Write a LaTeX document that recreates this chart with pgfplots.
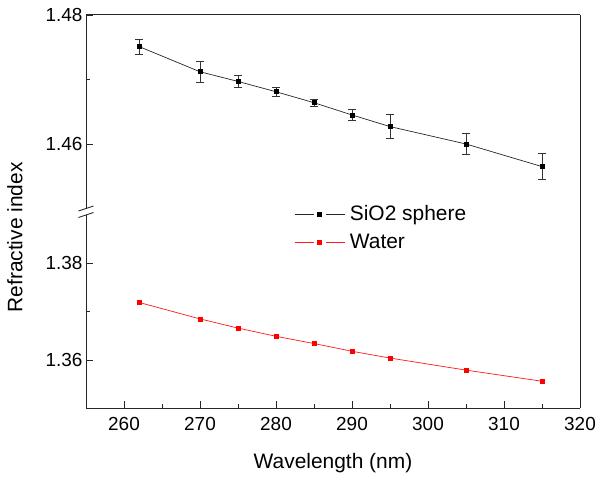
\documentclass[border=0pt]{standalone}
\usepackage{pgfplots}
\pgfplotsset{compat=1.18}
\usepackage{fontspec}
\setmainfont{Liberation Sans}
\begin{document}
\begin{tikzpicture}
\pgfplotsset{
  brk/.style={
    scale only axis, width=494bp,
    xmin=255, xmax=320,
    axis line style={line width=1bp, -, black!85},
    tick align=inside,
    every tick/.style={black!85, line width=0.8bp},
    major tick length=7bp, minor tick length=4bp,
    tick label style={font=\fontsize{19}{22}\selectfont},
    /pgf/number format/assume math mode=true,
    yticklabel style={/pgf/number format/.cd, fixed, fixed zerofill, precision=2},
    scaled y ticks=false,
  }
}
\begin{axis}[brk, name=up, height=193.5bp, at={(0,0)}, anchor=south west,
  ymin=1.45, ymax=1.48,
  axis x line*=top, axis y line*=left,
  xtick=\empty, ytick={1.46,1.48}, minor ytick={1.47}]
\addplot[black!85, line width=0.7bp, mark=square*, mark size=2bp, mark options={solid, black},
  error bars/.cd, y dir=both, y explicit,
  error bar style={line width=0.7bp, black!80},
  error mark options={rotate=90, mark size=4bp, black!80, line width=0.7bp}]
coordinates {
(262,1.4751) +- (0,0.0012)
(270,1.4712) +- (0,0.0016)
(275,1.4697) +- (0,0.0009)
(280,1.4681) +- (0,0.0007)
(285,1.4664) +- (0,0.0005)
(290,1.4645) +- (0,0.0009)
(295,1.4627) +- (0,0.0019)
(305,1.4600) +- (0,0.0016)
(315,1.4565) +- (0,0.0020)
};
\end{axis}
\begin{axis}[brk, name=low, height=193.3bp, at={(0,-6.5bp)}, anchor=north west,
  ymin=1.35, ymax=1.39,
  axis x line*=bottom, axis y line*=left,
  xtick={260,270,...,320}, minor xtick={265,275,...,315},
  xticklabel style={yshift=-5bp},
  ytick={1.36,1.38}, minor ytick={1.37},
  xlabel={Wavelength (nm)},
  xlabel style={yshift=-16bp},
  label style={font=\fontsize{21}{24}\selectfont},
  legend cell align=left,
  legend style={draw=none, fill=none, at={(0.415,1.07)}, anchor=north west,
    font=\fontsize{21}{24}\selectfont, row sep=8bp,
    nodes={inner xsep=5bp}},
  legend image code/.code={
    \draw[#1, mark=none] (0bp,0bp) -- (19bp,0bp);
    \draw[#1, mark=none] (31bp,0bp) -- (50bp,0bp);
    \draw[#1, only marks] plot coordinates {(25bp,0bp)};
  }]
\addlegendimage{black!85, line width=0.7bp, mark=square*, mark size=2bp, mark options={solid, black}}
\addlegendentry{SiO2 sphere}
\addplot[red!90, line width=0.7bp, mark=square*, mark size=2bp, mark options={solid, red}]
coordinates {
(262,1.3719)
(270,1.3685)
(275,1.3666)
(280,1.3649)
(285,1.3634)
(290,1.3618)
(295,1.3604)
(305,1.3579)
(315,1.3556)
};
\addlegendentry{Water}
\end{axis}
\draw[line width=1bp, black!85] (up.north east) -- (low.south east);
\draw[line width=0.8bp, black!85] (-7.5bp,-2.5bp) -- (7.5bp,2.5bp);
\draw[line width=0.8bp, black!85] (-7.5bp,-9bp) -- (7.5bp,-4bp);
\node[rotate=90, font=\fontsize{21}{24}\selectfont] at (-71bp,-29bp) {Refractive index};
\path (-86bp,208.5bp) rectangle (516bp,-270.5bp);
\end{tikzpicture}
\end{document}
